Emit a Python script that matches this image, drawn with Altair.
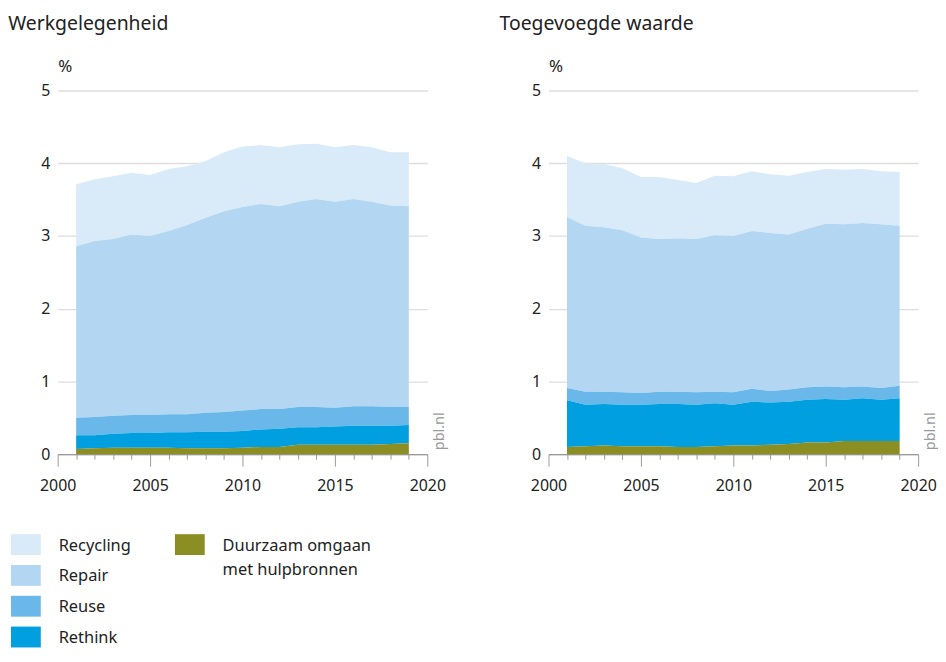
import altair as alt
import pandas as pd

years = list(range(2001, 2020))
categories = ["Recycling", "Repair", "Reuse", "Rethink", "Duurzaam omgaan met hulpbronnen"]
legend_labels = ["Recycling", "Repair", "Reuse", "Rethink", "Duurzaam omgaan\nmet hulpbronnen"]
colors = ["#d9ebf9", "#b3d7f3", "#6ab8ea", "#009fe0", "#8b8e23"]

# Werkgelegenheid (% of employment), per layer
werk_recycling = [0.85, 0.85, 0.86, 0.85, 0.84, 0.85, 0.81, 0.78, 0.81, 0.83, 0.81, 0.81, 0.79, 0.76, 0.75, 0.74, 0.75, 0.73, 0.74]
werk_repair = [2.36, 2.42, 2.43, 2.48, 2.46, 2.52, 2.60, 2.68, 2.76, 2.80, 2.82, 2.79, 2.82, 2.86, 2.83, 2.85, 2.81, 2.77, 2.76]
werk_reuse = [0.24, 0.25, 0.25, 0.25, 0.25, 0.25, 0.25, 0.26, 0.27, 0.28, 0.28, 0.27, 0.28, 0.28, 0.26, 0.27, 0.27, 0.26, 0.25]
werk_rethink = [0.19, 0.18, 0.19, 0.20, 0.20, 0.21, 0.22, 0.23, 0.23, 0.23, 0.24, 0.25, 0.24, 0.24, 0.25, 0.26, 0.26, 0.25, 0.25]
werk_duurzaam = [0.07, 0.08, 0.09, 0.09, 0.09, 0.09, 0.08, 0.08, 0.08, 0.09, 0.10, 0.10, 0.13, 0.13, 0.13, 0.13, 0.13, 0.14, 0.15]

# Toegevoegde waarde (% of value added), per layer
tw_recycling = [0.84, 0.86, 0.87, 0.85, 0.83, 0.85, 0.80, 0.77, 0.82, 0.82, 0.82, 0.81, 0.81, 0.78, 0.75, 0.75, 0.74, 0.73, 0.74]
tw_repair = [2.35, 2.28, 2.26, 2.23, 2.14, 2.10, 2.11, 2.11, 2.15, 2.15, 2.17, 2.17, 2.13, 2.18, 2.24, 2.24, 2.25, 2.25, 2.20]
tw_reuse = [0.17, 0.18, 0.17, 0.17, 0.16, 0.17, 0.17, 0.17, 0.16, 0.17, 0.18, 0.16, 0.17, 0.17, 0.17, 0.17, 0.16, 0.16, 0.17]
tw_rethink = [0.64, 0.57, 0.57, 0.57, 0.57, 0.58, 0.59, 0.58, 0.59, 0.56, 0.60, 0.58, 0.58, 0.59, 0.60, 0.57, 0.59, 0.57, 0.59]
tw_duurzaam = [0.10, 0.11, 0.12, 0.11, 0.11, 0.11, 0.10, 0.10, 0.11, 0.12, 0.12, 0.13, 0.14, 0.16, 0.16, 0.18, 0.18, 0.18, 0.18]

FONT = "Noto Sans"
W, H = 372, 366


def to_long(series):
    rows = []
    for cat, vals in zip(categories, series):
        for y, v in zip(years, vals):
            rows.append({"year": y, "category": cat, "value": v,
                         "order": len(categories) - 1 - categories.index(cat)})
    return pd.DataFrame(rows)


def panel(title, series, title_dx):
    df = to_long(series)
    area = alt.Chart(df).mark_area(interpolate="linear", opacity=1).encode(
        x=alt.X("year:Q", title=None,
                scale=alt.Scale(domain=[2000, 2020], nice=False, zero=False),
                axis=alt.Axis(values=list(range(2000, 2021)), format="d",
                              labelExpr="datum.value % 5 === 0 ? datum.label : ''",
                              tickSize={"condition": {"test": "datum.value % 5 === 0", "value": 12}, "value": 5},
                              tickColor="#9a9a9a", domainColor="#9a9a9a", tickWidth=1, domainWidth=1.2,
                              grid=False, labelFontSize=16, labelFont=FONT, labelColor="#222",
                              labelPadding=12, labelFlush=False)),
        y=alt.Y("value:Q", stack="zero",
                scale=alt.Scale(domain=[0, 5], nice=False),
                axis=alt.Axis(values=[0, 1, 2, 3, 4, 5], title="%", titleAngle=0, titleX=0, titleY=-15,
                              titleAlign="left", titleBaseline="bottom", titleFontSize=17,
                              titleFontWeight="normal", titleFont=FONT, titleColor="#222",
                              domain=False, ticks=False, labelPadding=8, labelFontSize=16,
                              labelFont=FONT, labelColor="#222",
                              grid=True, gridColor="#dedede", gridWidth=1.4)),
        color=alt.Color("category:N", scale=alt.Scale(domain=categories, range=colors), legend=None),
        order=alt.Order("order:Q"),
    )
    src = alt.Chart(pd.DataFrame({"t": ["pbl.nl"]})).mark_text(
        angle=270, align="left", baseline="middle", fontSize=14.5, font=FONT, color="#9a9a9a"
    ).encode(x=alt.value(W + 13), y=alt.value(H - 4), text="t:N")
    return (area + src).properties(
        width=W, height=H,
        title=alt.TitleParams(title, anchor="start", fontSize=19.5, font=FONT, fontWeight="normal",
                              color="#222", dx=title_dx, offset=23),
    )


left = panel("Werkgelegenheid", [werk_recycling, werk_repair, werk_reuse, werk_rethink, werk_duurzaam], -31.5)
right = panel("Toegevoegde waarde", [tw_recycling, tw_repair, tw_reuse, tw_rethink, tw_duurzaam], -31)

top = alt.hconcat(left, right, spacing=52)

leg_df = pd.DataFrame({
    "category": categories,
    "label": legend_labels,
    "col": [0, 0, 0, 0, 1],
    "row": [0, 1, 2, 3, 0],
})
leg_base = alt.Chart(leg_df).encode(
    x=alt.X("col:Q", scale=alt.Scale(domain=[0, 1], range=[-32, 133]), axis=None),
    y=alt.Y("row:Q", scale=alt.Scale(domain=[0, 3], range=[0, 93]), axis=None),
)
leg_rect = leg_base.mark_rect(width=30, height=21).encode(
    color=alt.Color("category:N", scale=alt.Scale(domain=categories, range=colors), legend=None)
)
leg_text = leg_base.mark_text(align="left", baseline="alphabetic", dx=33, dy=6, fontSize=16.5,
                              font=FONT, color="#222", lineBreak="\n", lineHeight=25).encode(text="label:N")
legend = (leg_rect + leg_text).properties(width=165, height=93)

chart = alt.vconcat(top, legend, spacing=40).properties(
    padding={"top": 4, "left": 0, "right": 0, "bottom": 0}
).configure_view(stroke=None)

chart.save("out.html", embed_options={"renderer": "svg", "actions": False})
